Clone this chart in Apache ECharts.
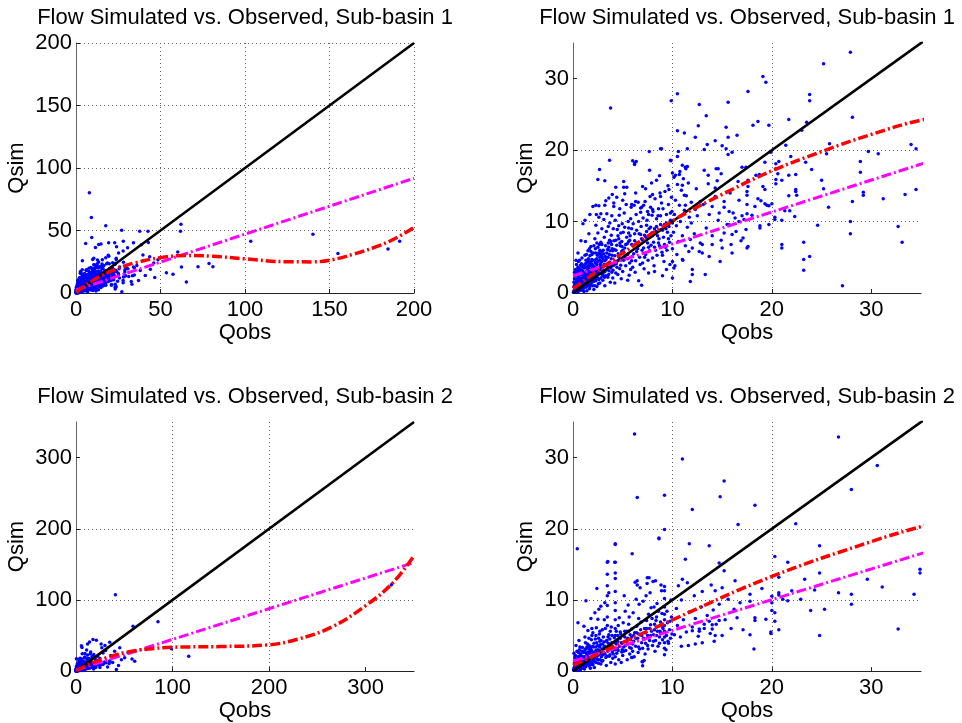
<!DOCTYPE html>
<html>
<head>
<meta charset="utf-8">
<script src="https://cdn.jsdelivr.net/npm/echarts@6/dist/echarts.min.js"></script>
<style>
html,body{margin:0;padding:0;background:#fff;}
#chart{width:962px;height:723px;}
</style>
</head>
<body>
<div id="chart"></div>
<script>
// ---------- DATA ----------
const titles = ['Flow Simulated vs. Observed, Sub-basin 1', 'Flow Simulated vs. Observed, Sub-basin 2'];

// Sub-basin 1 observed/simulated pairs [Qobs, Qsim]
const sub1Points = [
[0.1,0.2],[0.2,0.5],[0.3,0.3],[0.4,0.8],[0.5,0.4],[0.6,1.1],[0.7,0.6],[0.8,1.5],[0.9,0.9],[0.2,1.3],[0.4,1.9],[0.6,2.4],[0.3,2.8],[0.8,3.2],[0.5,3.6],[0.9,2.1],[0.1,0.9],[0.7,1.8],[0.5,2.2],[0.35,1.6],[0.15,2.0],[0.65,2.9],[0.85,0.4],[0.95,1.3],[0.45,0.1],[0.25,3.3],[0.75,3.9],[0.55,4.4],[0.9,4.9],[0.3,0.6],
[0.5,5.6],[0.8,7.3],[1.0,9.7],[1.2,10.2],[0.3,4.6],[2.0,12.1],[2.5,15.9],[1.7,11.0],
[1.0,0.5],[1.1,1.2],[1.2,2.0],[1.3,0.8],[1.4,1.6],[1.5,2.6],[1.6,1.1],[1.7,3.0],[1.8,2.2],[1.9,1.5],[1.05,2.8],[1.15,3.5],[1.25,4.1],[1.35,2.4],[1.45,3.2],[1.55,4.8],[1.65,0.6],[1.75,3.8],[1.85,4.4],[1.95,2.8],[1.2,5.3],[1.5,5.9],[1.8,6.5],[1.1,0.2],[1.4,0.3],[1.7,0.9],[1.3,3.0],[1.6,2.0],[1.9,3.4],[1.0,1.7],[1.45,1.0],[1.75,1.7],[1.25,7.2],[1.6,8.3],[1.9,5.4],
[2.0,1.0],[2.1,2.3],[2.2,3.1],[2.3,1.7],[2.4,4.0],[2.5,2.6],[2.6,3.5],[2.7,5.0],[2.8,2.1],[2.9,4.4],[2.05,5.6],[2.15,4.6],[2.25,6.2],[2.35,2.9],[2.45,5.3],[2.55,1.3],[2.65,6.8],[2.75,3.8],[2.85,5.8],[2.95,3.0],[2.1,0.5],[2.4,0.9],[2.7,1.4],[2.2,7.6],[2.5,8.4],[2.8,7.1],[2.3,9.5],[2.6,10.6],[2.9,9.0],[2.0,3.8],[2.45,3.4],[2.75,4.1],[2.6,12.2],[2.35,11.0],
[3.0,1.8],[3.1,3.2],[3.2,4.5],[3.3,2.4],[3.4,5.6],[3.5,3.7],[3.6,6.4],[3.7,4.3],[3.8,7.2],[3.9,2.9],[3.05,6.0],[3.15,7.8],[3.25,5.1],[3.35,8.6],[3.45,4.0],[3.55,9.3],[3.65,5.4],[3.75,1.5],[3.85,8.1],[3.95,6.2],[3.1,10.3],[3.4,11.1],[3.7,9.8],[3.2,1.0],[3.5,2.2],[3.8,3.5],[3.3,12.9],[3.6,13.3],[3.9,10.8],[3.0,4.8],[3.55,7.0],[3.85,4.8],
[4.0,2.1],[4.1,3.9],[4.2,5.2],[4.3,2.8],[4.4,6.7],[4.5,4.5],[4.6,7.6],[4.7,3.4],[4.8,8.4],[4.9,5.8],[4.05,9.0],[4.15,6.1],[4.25,10.2],[4.35,4.1],[4.45,8.9],[4.55,5.5],[4.65,10.9],[4.75,6.6],[4.85,2.0],[4.95,9.7],[4.1,12.1],[4.4,13.4],[4.7,11.8],[4.2,1.4],[4.5,2.6],[4.8,3.9],[4.3,7.4],[4.6,9.4],[4.9,7.2],[4.0,5.9],
[5.0,3.0],[5.1,4.6],[5.2,6.3],[5.3,3.8],[5.4,7.8],[5.5,5.4],[5.6,9.1],[5.7,4.2],[5.8,10.4],[5.9,6.8],[5.05,8.5],[5.15,11.2],[5.25,5.0],[5.35,12.4],[5.45,6.9],[5.55,10.0],[5.65,2.5],[5.75,8.0],[5.85,12.0],[5.95,5.1],[5.2,13.9],[5.5,1.8],[5.8,3.3],[5.4,14.8],[5.9,9.0],[5.0,6.0],[5.6,7.2],
[6.0,3.6],[6.1,5.5],[6.2,7.3],[6.3,4.5],[6.4,8.8],[6.5,6.2],[6.6,10.0],[6.7,5.0],[6.8,11.3],[6.9,7.6],[6.05,9.7],[6.15,12.3],[6.25,2.9],[6.35,11.0],[6.45,7.0],[6.55,12.7],[6.65,8.3],[6.75,4.0],[6.85,9.3],[6.95,6.0],[6.3,14.0],[6.6,1.7],[6.9,12.0],[6.2,18.2],[6.0,18.5],
[7.0,4.2],[7.1,6.3],[7.2,8.1],[7.3,5.4],[7.4,9.5],[7.5,7.0],[7.6,11.0],[7.7,5.9],[7.8,12.0],[7.9,8.4],[7.05,10.5],[7.15,3.4],[7.25,12.8],[7.35,7.8],[7.45,10.2],[7.55,4.6],[7.65,9.0],[7.75,13.5],[7.85,6.7],[7.95,10.9],[7.3,14.6],[7.6,2.8],[7.9,15.4],
[8.0,4.9],[8.1,7.1],[8.2,9.0],[8.3,6.0],[8.4,10.4],[8.5,8.0],[8.6,11.8],[8.7,6.6],[8.8,9.6],[8.9,12.6],[8.05,11.4],[8.15,3.8],[8.25,13.2],[8.35,8.6],[8.45,5.3],[8.55,10.8],[8.65,7.6],[8.75,14.0],[8.85,8.9],[8.95,5.7],[8.4,15.8],[8.7,16.4],[8.2,3.0],[8.9,20.2],
[9.0,5.3],[9.1,7.8],[9.2,9.6],[9.3,6.4],[9.4,11.0],[9.5,8.5],[9.6,12.4],[9.7,7.1],[9.8,10.2],[9.9,13.4],[9.05,11.8],[9.15,4.4],[9.25,14.2],[9.35,9.0],[9.45,6.0],[9.55,15.0],[9.65,9.3],[9.75,4.0],[9.85,8.0],[9.95,11.4],[9.4,3.3],[9.8,18.6],[9.0,2.4],
[10.0,6.2],[10.1,8.5],[10.2,11.0],[10.3,13.0],[10.4,9.4],[10.5,15.2],[10.6,7.2],[10.7,12.3],[10.8,10.0],[10.9,14.4],[11.0,8.0],[11.1,16.0],[11.2,11.6],[11.3,6.6],[11.4,13.6],[11.5,9.2],[11.6,15.4],[11.7,10.6],[11.8,7.5],[11.9,12.7],[10.15,16.2],[10.45,5.4],[10.75,17.0],[11.05,4.6],[11.35,17.4],[11.65,5.8],[10.25,3.8],[11.9,9.8],
[12.2,8.3],[12.5,10.8],[12.8,7.0],[13.1,12.4],[13.4,9.1],[13.7,11.0],[14.0,8.0],[14.3,13.5],[14.6,10.2],[14.9,7.4],[15.2,12.0],[15.5,9.6],[15.8,14.0],[16.1,11.2],[16.4,8.6],[16.7,13.0],[17.0,10.8],[12.4,14.6],[13.0,5.6],[13.6,15.3],[14.8,4.4],[15.9,6.8],[16.6,15.6],[12.0,3.3],[13.3,2.6],[14.5,15.7],[16.9,7.3],[12.0,2.6],[6.9,1.1],
[3.2,15.7],[5.1,15.6],[4.3,14.8],[5.1,14.8],[7.0,14.9],[10.0,16.8],[10.3,16.5],[10.7,16.6],[11.0,15.1],[11.2,13.7],[13.6,16.5],[14.9,16.7],[14.3,14.7],[15.2,12.8],[9.65,14.5],[8.0,13.8],[8.8,13.5],[3.95,13.8],[2.3,12.3],[3.2,12.3],[2.8,11.1],[4.1,12.6],[5.0,13.0],[5.9,12.4],[6.3,12.8],[6.8,11.9],[7.1,12.3],[7.5,11.4],[8.0,11.7],[11.3,12.3],[12.3,11.7],[12.8,12.8],[14.0,12.1],[14.7,11.2],[15.7,11.4],[16.3,10.5],[17.2,10.3],[15.7,9.55],[16.7,10.0],[15.2,8.4],[16.0,8.2],[17.4,8.9],[17.1,7.7],[14.0,6.8],[15.0,6.3],[13.7,5.1],[17.6,6.5],[16.0,5.6],[12.0,6.3],[12.7,5.8],[13.0,6.8],[11.0,4.7],[10.0,4.4],[10.15,3.5],[10.0,2.1],[11.8,1.6],
[0.05,0.1],[0.12,0.4],[0.18,0.15],[0.22,0.75],[0.28,1.05],[0.33,0.45],[0.38,1.3],[0.42,0.55],[0.48,1.45],[0.52,0.85],[0.58,1.7],[0.62,0.3],[0.68,1.25],[0.72,2.05],[0.78,0.75],[0.82,1.9],[0.88,1.15],[0.92,2.5],[0.98,0.65],[0.1,1.5],[0.2,2.4],[0.3,1.9],[0.4,2.6],[0.5,3.0],[0.6,3.4],[0.7,2.6],[0.8,2.7],[0.9,3.6],[0.15,2.9],[0.45,3.2],[0.55,2.7],[0.85,4.1],[0.65,4.6],[0.35,4.0],[0.95,3.1],
[1.02,1.1],[1.08,2.2],[1.12,0.8],[1.18,1.6],[1.22,2.6],[1.28,1.3],[1.32,3.6],[1.38,2.0],[1.42,4.3],[1.48,2.3],[1.52,1.4],[1.58,3.5],[1.62,2.8],[1.68,4.1],[1.72,2.4],[1.78,1.2],[1.82,3.1],[1.88,2.5],[1.92,4.0],[1.98,1.9],[1.1,3.9],[1.3,4.6],[1.5,3.8],[1.7,5.2],[1.9,4.7],[1.2,1.1],[1.4,2.8],[1.6,4.4],[1.8,5.8],[1.35,5.4],[1.65,6.2],
[2.02,2.6],[2.08,1.6],[2.12,3.7],[2.18,2.5],[2.22,4.2],[2.28,2.0],[2.32,3.5],[2.38,4.8],[2.42,2.2],[2.48,4.4],[2.52,3.2],[2.58,5.6],[2.62,2.8],[2.68,4.6],[2.72,3.3],[2.78,5.4],[2.82,2.7],[2.88,3.6],[2.92,5.1],[2.98,2.4],[2.1,6.6],[2.3,5.6],[2.5,6.4],[2.7,6.0],[2.9,6.8],[2.2,1.0],[2.6,1.9],[2.4,7.0],
[3.02,2.7],[3.12,4.0],[3.22,3.0],[3.32,4.7],[3.42,3.3],[3.52,5.0],[3.62,3.1],[3.72,5.9],[3.82,4.1],[3.92,5.3],[3.08,5.5],[3.28,6.6],[3.48,6.1],[3.68,7.4],[3.88,6.8],[3.18,2.2],[3.58,2.6],[3.98,3.8],
[4.02,3.2],[4.22,4.4],[4.42,3.6],[4.62,5.0],[4.82,4.6],[4.12,7.3],[4.52,8.0],[4.92,6.5],[4.32,6.0],[4.72,7.0],
[5.1,5.6],[5.3,6.8],[5.5,4.8],[5.7,7.4],[5.9,4.5],[5.2,9.2],[5.6,8.4],[6.0,6.7],[6.2,8.3],[6.4,5.8],[6.6,6.6],[6.8,8.2],[7.0,7.4],[7.2,5.0],[7.4,8.6],[7.6,6.4],[7.8,9.2],[8.0,8.0],[8.2,6.4],[8.4,9.3],[8.6,7.0],[8.8,10.8],[9.0,8.8],[9.2,6.8],[9.4,9.8],[9.6,7.6],[9.8,11.2],[10.0,9.8],
[3.78,25.9],[10.5,27.9],[9.88,26.9],[12.7,26.4],[15.6,26.7],[13.4,24.8],[17.6,28.2],[10.5,22.7],[11.2,22.4],[12.6,23.4],[12.3,21.8],[15.4,23.2],[15.6,21.8],[16.5,22.1],[14.3,21.3],[13.5,20.8],[15.0,20.6],[15.4,20.2],[15.6,19.4],[16.0,19.7],[13.2,20.1],[11.5,20.2],[10.6,19.8],[10.5,19.1],[8.8,20.2],[7.67,19.8],[3.68,18.6],[6.36,18.4],[6.19,18.0],[9.85,18.5],[11.0,17.9],[11.3,17.6],[11.5,17.7],[2.67,17.3],[14.4,17.4],[14.6,17.4],[17.0,17.6],[17.4,17.6],[7.7,17.2],[13.2,17.2],
[27.9,33.7],[25.2,32.1],[19.1,30.3],[19.4,29.5],[23.8,27.8],[23.8,26.9],[18.1,23.5],[18.6,24.0],[19.7,23.5],[21.7,24.3],[23.5,23.9],[23.0,22.8],[28.1,24.6],[21.4,20.7],[19.9,19.7],[25.8,20.9],[25.5,19.5],[21.9,19.1],[20.7,18.4],[20.4,18.1],[19.3,18.3],[23.4,18.3],[28.9,18.4],[29.7,19.8],[30.7,19.5],[34.0,20.8],[34.5,20.2],[20.4,17.4],[24.0,17.3],
[17.6,15.8],[18.4,16.5],[18.75,16.6],[20.6,16.7],[20.4,15.9],[20.4,15.3],[21.0,15.8],[22.4,16.6],[17.6,14.9],[17.5,14.2],[17.5,13.7],[19.1,14.9],[19.3,14.5],[18.6,13.2],[18.9,12.9],[19.3,12.5],[19.5,12.3],[19.7,12.2],[20.0,12.5],[17.5,12.4],[18.3,12.1],[17.5,11.1],[18.0,10.9],[21.7,16.5],[21.7,13.6],[22.4,14.5],[22.4,14.2],[22.5,13.7],[25.0,15.8],[25.2,14.6],[21.3,11.5],[21.8,11.5],[21.0,10.2],[20.3,10.6],[20.3,10.3],[22.3,10.7],[25.7,12.0],[28.1,12.8],[28.9,16.9],[29.2,14.1],[29.2,13.7],[31.2,13.2],[33.4,13.8],[34.5,14.5],[27.9,10.0],[27.9,8.3],[24.6,9.5],[18.8,9.4],[18.8,9.1],[19.7,9.6],[17.5,6.3],[21.0,6.8],[21.0,6.3],[23.2,7.1],[23.2,4.7],[23.8,5.1],[23.2,3.2],[27.1,1.0],[32.7,9.3],[33.1,7.1],
[7.9,80.2],[9.1,60.5],[9.3,44.5],[17.6,53.8],[13.4,38.9],[14.8,39.2],[22.9,40.2],[27.0,50.3],[34.0,40.2],[37.7,49.5],[42.6,49.5],[38.7,38.7],[42.8,40.5],[39.6,30.4],[43.6,29.0],[62.1,55.1],[61.8,49.5],[60.2,32.8],[62.4,20.8],[65.3,8.8],[53.5,16.2],[57.4,15.1],[46.6,12.5],[48.5,26.7],[72.2,21.0],[78.7,23.7],[81.0,21.0],[103.4,41.5],[140.2,47.1],[155.0,31.7],[184.6,35.2],[191.5,41.5],[36,22],[38,18],[40,26],[41,14],[44,19],[46,24],[37,10],[5.7,39.7],[19.3,40.3],[24,37],[28,41.5],[11.5,36.5],[30.5,36.2]
];

// Sub-basin 2 observed/simulated pairs [Qobs, Qsim]
const sub2Points = [
[0.1,0.3],[0.2,0.6],[0.3,0.2],[0.4,1.0],[0.5,0.5],[0.6,1.3],[0.7,0.8],[0.8,1.7],[0.9,0.4],[0.15,1.2],[0.35,1.6],[0.55,2.0],[0.75,2.4],[0.95,1.1],[0.25,2.2],[0.45,0.1],[0.65,3.0],[0.85,0.9],[0.5,6.8],[0.3,3.6],[0.9,2.8],[0.6,4.3],[0.2,1.9],[0.75,0.2],
[1.0,0.6],[1.1,1.4],[1.2,0.9],[1.3,2.1],[1.4,1.2],[1.5,2.7],[1.6,0.7],[1.7,1.9],[1.8,3.3],[1.9,1.4],[1.05,2.6],[1.25,3.1],[1.45,3.8],[1.65,2.5],[1.85,4.4],[1.15,0.3],[1.35,1.7],[1.55,1.0],[1.75,0.4],[1.95,2.3],[1.2,4.8],[1.5,5.7],[1.8,7.4],[1.3,9.9],[1.1,6.3],[1.7,3.0],[1.4,3.4],[1.9,6.0],
[2.0,0.9],[2.1,2.0],[2.2,1.3],[2.3,2.9],[2.4,1.7],[2.5,3.6],[2.6,2.3],[2.7,4.2],[2.8,1.0],[2.9,3.1],[2.05,3.4],[2.25,4.5],[2.45,2.6],[2.65,5.2],[2.85,2.0],[2.15,0.5],[2.35,6.1],[2.55,1.1],[2.75,3.7],[2.95,5.8],[2.2,8.2],[2.5,7.3],[2.8,9.1],[2.4,11.6],[2.6,8.7],[2.0,5.4],
[3.0,1.5],[3.1,2.6],[3.2,3.5],[3.3,1.9],[3.4,4.3],[3.5,2.8],[3.6,5.1],[3.7,3.3],[3.8,1.2],[3.9,4.0],[3.05,4.8],[3.25,6.0],[3.45,13.6],[3.45,15.3],[3.45,12.0],[3.45,10.6],[3.45,9.2],[3.45,7.6],[3.45,6.4],[3.65,2.1],[3.85,6.2],[3.15,7.2],[3.35,0.8],[3.55,3.9],[3.75,5.6],[3.95,2.7],[3.2,9.6],[3.6,11.0],
[4.0,1.8],[4.1,3.0],[4.25,1.0],[4.25,2.0],[4.25,3.0],[4.25,4.0],[4.25,5.0],[4.25,6.0],[4.25,7.2],[4.25,8.5],[4.25,9.6],[4.25,11.2],[4.25,13.0],[4.25,13.8],[4.25,15.3],[4.25,17.8],[4.4,2.5],[4.5,4.2],[4.6,1.6],[4.7,3.5],[4.8,5.2],[4.9,2.7],[4.35,5.6],[4.55,6.4],[4.75,4.6],[4.95,3.9],[4.65,7.5],[4.85,1.2],[4.15,4.7],[4.45,3.2],
[5.0,2.2],[5.1,3.4],[5.2,4.8],[5.3,2.9],[5.4,5.6],[5.5,3.8],[5.6,6.6],[5.7,2.4],[5.8,4.4],[5.9,5.9],[5.05,6.8],[5.25,8.4],[5.45,1.6],[5.65,7.6],[5.85,3.2],[5.15,10.6],[5.55,9.3],[5.95,16.5],[5.35,4.2],[5.75,5.1],[5.9,1.9],
[6.0,2.8],[6.1,4.2],[6.2,5.4],[6.3,3.5],[6.4,6.3],[6.5,4.6],[6.6,7.4],[6.7,3.1],[6.8,5.8],[6.9,4.0],[6.05,8.2],[6.25,12.5],[6.45,12.7],[6.65,9.4],[6.85,6.9],[6.15,2.0],[6.55,2.6],[6.95,1.3],[6.35,10.1],[6.75,11.7],[6.1,5.0],[6.6,5.2],
[7.0,3.2],[7.1,4.6],[7.2,6.0],[7.3,3.9],[7.4,7.1],[7.5,5.0],[7.6,8.0],[7.7,4.3],[7.8,6.5],[7.9,5.6],[7.05,9.8],[7.25,2.4],[7.45,12.3],[7.65,13.1],[7.85,8.9],[7.15,1.5],[7.55,3.1],[7.95,7.4],[7.35,10.6],[7.75,11.0],[7.3,5.4],[7.7,6.0],[7.0,0.75],[7.0,1.3],[5.96,1.9],
[8.0,3.6],[8.1,5.1],[8.2,6.6],[8.3,4.3],[8.4,7.6],[8.5,5.6],[8.6,8.4],[8.7,4.8],[8.8,6.9],[8.9,11.3],[8.05,12.6],[8.25,2.8],[8.45,9.5],[8.65,18.6],[8.85,12.1],[8.15,9.0],[8.55,3.5],[8.95,6.3],[8.35,7.1],[8.75,5.6],[8.95,8.1],
[9.2,2.3],[9.2,3.2],[9.2,4.0],[9.2,4.8],[9.2,5.6],[9.2,6.4],[9.2,7.2],[9.2,8.0],[9.2,9.0],[9.2,10.2],[9.2,11.3],[9.2,11.9],[9.0,4.4],[9.4,5.0],[9.5,6.8],[9.6,3.9],[9.7,5.8],[9.8,4.6],[9.9,7.6],[9.05,6.0],[9.35,3.0],[9.55,4.2],[9.75,7.0],[9.95,5.2],[9.45,8.4],[9.85,10.0],
[10.2,5.1],[10.5,6.4],[10.8,4.8],[11.1,7.2],[11.4,5.5],[11.7,8.3],[12.0,6.2],[12.3,7.4],[12.6,4.9],[12.9,9.0],[13.2,6.0],[13.5,7.8],[13.8,5.3],[14.1,8.6],[14.4,6.6],[14.7,9.4],[15.0,5.0],[15.3,7.2],[15.6,10.1],[15.9,6.0],[16.2,8.7],[16.5,7.5],[16.8,9.6],[17.1,5.8],[10.4,8.8],[10.9,10.0],[11.6,3.6],[12.2,10.6],[13.0,11.2],[14.2,4.2],[10.6,12.0],[13.7,7.0],[12.7,5.6],[10.9,3.5],
[0.05,0.15],[0.12,0.5],[0.18,0.9],[0.22,0.3],[0.28,1.3],[0.32,0.7],[0.38,0.4],[0.42,1.5],[0.48,0.9],[0.52,1.7],[0.58,0.6],[0.62,2.1],[0.68,1.1],[0.72,1.6],[0.78,0.5],[0.82,2.2],[0.88,1.3],[0.92,0.7],[0.98,1.9],[0.1,2.5],[0.4,2.8],[0.7,3.4],[0.95,3.3],[0.55,2.6],
[1.02,1.2],[1.08,2.0],[1.12,0.9],[1.18,2.9],[1.22,1.6],[1.28,0.6],[1.32,2.5],[1.38,1.0],[1.42,2.2],[1.48,1.5],[1.52,3.2],[1.58,1.9],[1.62,3.6],[1.68,1.3],[1.72,2.6],[1.78,0.9],[1.82,2.0],[1.88,2.9],[1.92,1.1],[1.98,3.5],[1.25,4.0],[1.6,4.6],[1.9,5.0],
[2.02,1.5],[2.08,2.6],[2.12,3.9],[2.18,1.8],[2.22,2.4],[2.28,3.4],[2.32,1.2],[2.38,4.0],[2.42,2.1],[2.48,3.0],[2.52,1.6],[2.58,4.6],[2.62,2.9],[2.68,3.4],[2.72,1.6],[2.78,2.5],[2.82,4.3],[2.88,2.4],[2.92,1.4],[2.98,3.8],[2.3,5.0],[2.7,5.6],
[3.02,2.3],[3.12,3.4],[3.22,2.4],[3.32,4.2],[3.42,2.1],[3.52,4.8],[3.62,3.2],[3.72,2.3],[3.82,3.7],[3.92,5.0],[3.1,4.1],[3.4,3.2],[3.7,4.5],[3.9,3.2],
[4.05,2.4],[4.35,3.8],[4.55,2.9],[4.75,5.5],[4.95,3.0],[4.5,5.0],[4.85,4.0],
[5.1,2.8],[5.3,3.6],[5.5,4.6],[5.7,3.3],[5.9,4.8],[5.2,5.6],[5.6,5.6],[6.0,3.8],[6.3,4.6],[6.6,3.4],[6.9,5.0],[6.4,5.4],[7.2,4.5],[7.5,3.6],[7.8,5.0],[7.4,6.0],[8.1,4.2],[8.4,5.0],[8.7,3.9],[8.2,5.8],[8.8,5.3],
[3.5,15.4],[4.2,15.3],[11.3,15.7],[15.2,14.1],[14.7,15.2],[16.3,12.7],[11.0,12.9],[11.5,12.4],[13.9,12.1],[14.3,11.3],[15.0,11.7],[6.46,12.1],[7.47,13.1],[8.3,12.7],[12.0,5.66],[12.7,5.9],[13.2,6.6],[14.0,6.5],[14.0,5.9],[14.3,5.0],[12.3,3.8],[13.0,4.0],[14.7,7.1],
[6.19,33.3],[11.0,29.8],[15.2,26.7],[14.8,24.5],[6.46,24.4],[9.2,24.7],[12.0,22.7],[16.6,20.6],[9.2,19.9],[8.64,18.7],[0.43,17.2],[4.25,17.9],[11.7,17.9],[13.7,17.6],
[26.7,32.9],[30.6,28.9],[28.0,25.5],[18.3,23.3],[22.4,20.7],[24.8,17.6],
[20.3,16.1],[21.6,15.3],[24.8,13.8],[20.7,13.2],[19.0,11.6],[23.3,12.9],[29.6,12.9],[31.1,11.8],[34.9,14.3],[34.9,13.8],[17.8,10.8],[20.7,11.0],[20.7,10.7],[22.0,11.3],[24.3,11.4],[26.7,11.0],[28.0,10.8],[34.3,10.8],[20.0,10.5],[21.1,10.1],[21.6,9.9],[22.9,10.1],[17.8,9.8],[20.0,9.6],[20.0,8.5],[20.3,8.2],[28.0,9.4],[23.9,8.5],[25.3,8.7],[18.3,7.5],[18.3,7.1],[19.4,7.3],[20.3,7.0],[20.7,5.8],[19.9,5.5],[19.9,5.3],[17.8,5.1],[24.8,5.0],[32.7,5.9],[18.2,3.1],
[40.8,107.4],[84.9,69.2],[59,63],[98.8,31.4],[116.7,21],[17.6,44.4],[21.1,43.4],[34.9,40.6],[45.3,32.8],[53.9,25.7],[5.6,35.5],[41.8,2.4],[50.4,18.7],[60.8,14],[58,17],[326.6,121.4],[38,12],[44,8],[36,22],[40,28],[47,16],[30,36],[26,38],[12,38],[14,41]
];

// Reference lines / fits [Qobs, Qsim]
const oneToOne1 = [[0, 0], [200, 200]];
const linFit1 = [[0, 2.4], [200, 91.8]];
const polyFit1 = [[0,0.6],[5,5.6],[10,10.1],[15,13.8],[20,17.1],[25,19.8],[30,22.2],[35,24.2],[50,28.3],[65,30.0],[80,29.5],[100,27.3],[125,25.0],[140,24.9],[152,26.7],[164,31.0],[176,36.2],[188,43.0],[200,52.5]];

const oneToOne2 = [[0, 0], [350, 350]];
const linFit2 = [[0, 1.4], [350, 152.5]];
const polyFit2 = [[0,0.8],[10,7.2],[20,13.3],[30,18.2],[35,20.3],[50,26.0],[75,31.0],[100,33.5],[150,34.5],[200,37.0],[230,45.0],[265,62.0],[300,92.0],[328,124.0],[350,162.0]];

// Axis settings per panel
const panelMax = [200, 35, 350, 35];
const panelStep = [50, 10, 100, 10];
const xTicks = [[0,50,100,150,200],[0,10,20,30],[0,100,200,300],[0,10,20,30]];

// ---------- CHART ----------
const FONT = 'Liberation Sans, Arial, Helvetica, sans-serif';
const FS = 22;
const grids = [
  {left: 76, top: 43, width: 338, height: 250},
  {left: 573, top: 43, width: 348, height: 250},
  {left: 76, top: 422, width: 338, height: 250},
  {left: 573, top: 422, width: 348, height: 250}
];
const yNameGap = [48, 36, 48, 36];
const xNameGap = [27, 27, 26, 26];

const chart = echarts.init(document.getElementById('chart'), null, {renderer: 'canvas'});

const xAxes = [], yAxes = [], series = [], titleList = [];
for (let i = 0; i < 4; i++) {
  const mx = panelMax[i];
  const showMax = (mx % panelStep[i]) === 0;
  const common = {
    type: 'value', gridIndex: i, min: 0, max: mx, interval: panelStep[i],
    axisLabel: {color: '#000', fontSize: FS, fontFamily: FONT, showMaxLabel: showMax},
    axisTick: {show: true, inside: true, length: 4, lineStyle: {color: '#222'}, customValues: xTicks[i]},
    splitLine: {show: true, showMaxLine: showMax, lineStyle: {color: '#606060', type: [1, 3], width: 1}},
    nameTextStyle: {color: '#000', fontSize: FS, fontFamily: FONT},
    nameLocation: 'middle'
  };
  xAxes.push(Object.assign({}, common, {
    name: 'Qobs', nameGap: xNameGap[i],
    axisLine: {show: true, onZero: false, lineStyle: {color: '#222', width: 1}},
    axisLabel: Object.assign({}, common.axisLabel, {margin: 6})
  }));
  yAxes.push(Object.assign({}, common, {
    name: 'Qsim', nameGap: yNameGap[i],
    axisLine: {show: true, onZero: false, lineStyle: {color: '#666', width: 1}},
    axisLabel: Object.assign({}, common.axisLabel, {margin: 4})
  }));
  const sub = i < 2 ? 0 : 1;
  const pts = sub === 0 ? sub1Points : sub2Points;
  const one = sub === 0 ? oneToOne1 : oneToOne2;
  const lin = sub === 0 ? linFit1 : linFit2;
  const poly = sub === 0 ? polyFit1 : polyFit2;
  series.push({
    type: 'scatter', xAxisIndex: i, yAxisIndex: i, data: pts,
    symbol: 'circle', symbolSize: 3.5, itemStyle: {color: '#0000ff', opacity: 1},
    silent: true, z: 2, clip: true
  });
  series.push({
    type: 'line', xAxisIndex: i, yAxisIndex: i, data: one, showSymbol: false, symbol: 'none',
    lineStyle: {color: '#000', width: 2.6}, silent: true, z: 3, clip: true
  });
  series.push({
    type: 'line', xAxisIndex: i, yAxisIndex: i, data: lin, showSymbol: false, symbol: 'none',
    lineStyle: {color: '#ff00ff', width: 3, type: [10, 3, 2, 3]}, silent: true, z: 4, clip: true
  });
  series.push({
    type: 'line', xAxisIndex: i, yAxisIndex: i, data: poly, showSymbol: false, symbol: 'none', smooth: 0.4,
    lineStyle: {color: '#ff0000', width: 3.5, type: [10, 3, 2, 3]}, silent: true, z: 5, clip: true
  });
  const g = grids[i];
  titleList.push({
    text: titles[sub], left: g.left + g.width / 2, top: i < 2 ? 7 : 386, textAlign: 'center', padding: 0,
    textStyle: {color: '#000', fontSize: FS, fontWeight: 'normal', fontFamily: FONT}
  });
}

chart.setOption({
  animation: false,
  backgroundColor: '#fff',
  title: titleList,
  grid: grids,
  xAxis: xAxes,
  yAxis: yAxes,
  series: series
});
</script>
</body>
</html>
